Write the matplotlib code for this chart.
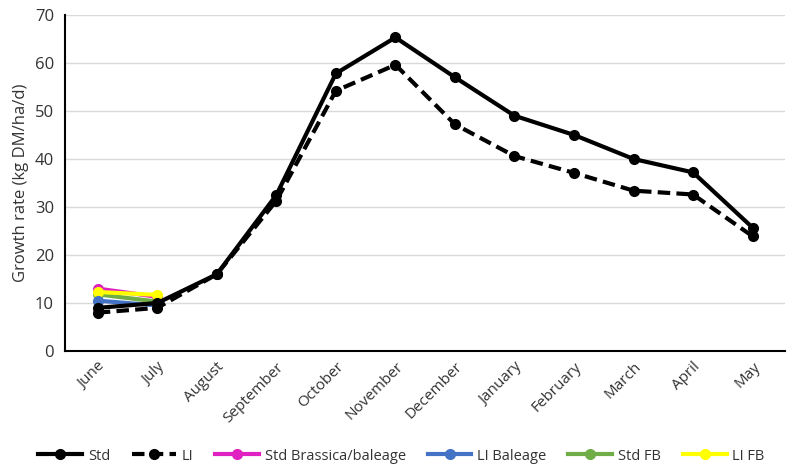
import matplotlib
matplotlib.use("Agg")
import matplotlib.pyplot as plt

months = ["June", "July", "August", "September", "October", "November", "December",
          "January", "February", "March", "April", "May"]
std = [9.0, 10.0, 16.0, 32.5, 57.8, 65.3, 57.0, 49.0, 45.0, 40.0, 37.2, 25.7]
li = [8.0, 9.0, 16.0, 31.3, 54.2, 59.6, 47.2, 40.6, 37.1, 33.4, 32.6, 23.9]
std_brassica = [13.0, 11.3]
li_baleage = [10.5, 9.5]
std_fb = [11.8, 10.3]
li_fb = [12.3, 11.7]

plt.rcParams['font.family'] = ['Open Sans', 'DejaVu Sans']
fig = plt.figure(figsize=(8.03, 4.65), dpi=100)
ax = fig.add_axes([0.081, 0.245, 0.897, 0.723])
x = list(range(len(months)))

ax.plot(x[:2], std_brassica, color='#E020C0', lw=3, marker='o', ms=7, label='Std Brassica/baleage', zorder=3)
ax.plot(x[:2], std_fb, color='#70AD47', lw=3, marker='o', ms=7, label='Std FB', zorder=3)
ax.plot(x[:2], li_fb, color='#FFFF00', lw=3, marker='o', ms=7, label='LI FB', zorder=3)
ax.plot(x[:2], li_baleage, color='#4472C4', lw=3, marker='o', ms=7, label='LI Baleage', zorder=3)
ax.plot(x, std, color='black', lw=3, marker='o', ms=7, label='Std', zorder=4)
ax.plot(x, li, color='black', lw=3, ls=(0, (3, 1.5)), marker='o', ms=7, label='LI', zorder=4)

ax.set_xlim(-0.55, 11.55)
ax.set_ylim(0, 70)
ax.set_yticks(range(0, 71, 10))
ax.set_xticks(x)
ax.set_xticklabels(months, rotation=45, ha='right', rotation_mode='anchor', fontsize=11, color='#333333')
ax.tick_params(axis='y', labelsize=12, colors='#333333', length=0, pad=8)
ax.tick_params(axis='x', length=0, pad=6)
ax.grid(axis='y', color='#D9D9D9', lw=1)
ax.set_axisbelow(True)
for s in ['top', 'right']:
    ax.spines[s].set_visible(False)
ax.spines['left'].set_color('black')
ax.spines['left'].set_linewidth(1.5)
ax.spines['bottom'].set_color('black')
ax.spines['bottom'].set_linewidth(1.5)
ax.set_ylabel('Growth rate (kg DM/ha/d)', fontsize=12, color='#333333')

handles, labels = ax.get_legend_handles_labels()
order = ['Std', 'LI', 'Std Brassica/baleage', 'LI Baleage', 'Std FB', 'LI FB']
hmap = dict(zip(labels, handles))
fig.legend([hmap[o] for o in order], order, loc='lower center', ncol=6, frameon=False,
           bbox_to_anchor=(0.5, -0.025), fontsize=10.5, handlelength=3, columnspacing=1.5,
           handletextpad=0.4, labelcolor='#333333')

fig.savefig('out.png', dpi=100)
